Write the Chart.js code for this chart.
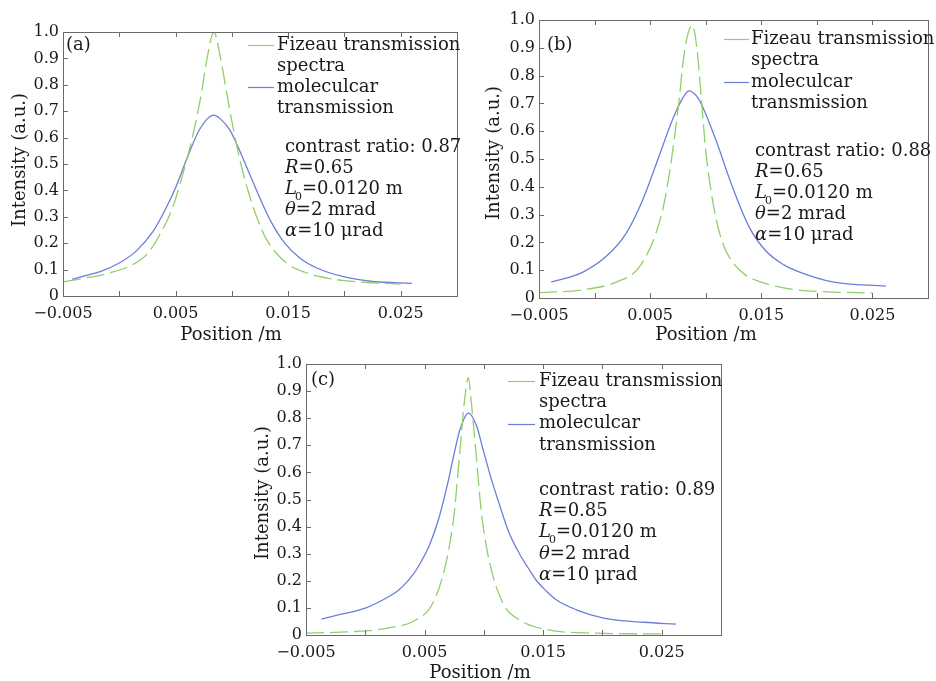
<!DOCTYPE html>
<html>
<head>
<meta charset="utf-8">
<script src="https://cdn.jsdelivr.net/npm/chart.js@4.4.1/dist/chart.umd.min.js"></script>
<style>
  html, body { margin: 0; padding: 0; background: #fff; }
  #wrap { position: relative; width: 936px; height: 681px; }
  #wrap canvas { position: absolute; left: 0; top: 0; }
</style>
</head>
<body>
<div id="wrap">
  <canvas id="chartA" width="936" height="681"></canvas>
  <canvas id="chartB" width="936" height="681"></canvas>
  <canvas id="chartC" width="936" height="681"></canvas>
</div>
<script>
// Tick values shared by all three panels
const xTicks = [-0.005, 0, 0.005, 0.01, 0.015, 0.02, 0.025, 0.03];
const xLabelled = [-0.005, 0.005, 0.015, 0.025];
const yTicks = [0, 0.1, 0.2, 0.3, 0.4, 0.5, 0.6, 0.7, 0.8, 0.9, 1.0];

// Panel (a)
const aMolX = [-0.0042, -0.003, -0.0017, 0, 0.0015, 0.003, 0.004, 0.005, 0.006, 0.007, 0.0078, 0.0084, 0.009, 0.0098, 0.0106, 0.0115, 0.0125, 0.0135, 0.0147, 0.016, 0.0176, 0.02, 0.0225, 0.026];
const aMolY = [0.063, 0.077, 0.092, 0.125, 0.17, 0.245, 0.32, 0.41, 0.52, 0.62, 0.67, 0.685, 0.67, 0.63, 0.56, 0.47, 0.37, 0.28, 0.2, 0.145, 0.105, 0.072, 0.055, 0.048];
const aFizX = [-0.005, -0.003, -0.001, 0.001, 0.0025, 0.0037, 0.0047, 0.0055, 0.0062, 0.0068, 0.0073, 0.0078, 0.0084, 0.009, 0.0095, 0.0101, 0.0108, 0.0115, 0.0122, 0.013, 0.014, 0.015, 0.0165, 0.018, 0.02, 0.0225, 0.025];
const aFizY = [0.054, 0.068, 0.086, 0.115, 0.16, 0.24, 0.33, 0.44, 0.55, 0.66, 0.77, 0.9, 1.0, 0.9, 0.78, 0.64, 0.5, 0.39, 0.3, 0.22, 0.16, 0.12, 0.09, 0.072, 0.058, 0.05, 0.045];

// Panel (b)
const bMolX = [-0.0039, -0.0025, -0.001, 0.001, 0.0028, 0.0043, 0.0058, 0.007, 0.0078, 0.0085, 0.0092, 0.0097, 0.0109, 0.0124, 0.0139, 0.0154, 0.017, 0.0184, 0.0214, 0.0262];
const bMolY = [0.058, 0.072, 0.094, 0.148, 0.23, 0.35, 0.51, 0.64, 0.71, 0.745, 0.725, 0.69, 0.57, 0.40, 0.256, 0.17, 0.12, 0.094, 0.058, 0.043];
const bFizX = [-0.005, -0.001, 0.002, 0.004, 0.0055, 0.0062, 0.0067, 0.0072, 0.0076, 0.008, 0.0084, 0.0088, 0.0092, 0.0096, 0.01, 0.0105, 0.0109, 0.0116, 0.0124, 0.0135, 0.0145, 0.016, 0.0184, 0.021, 0.025];
const bFizY = [0.019, 0.03, 0.058, 0.11, 0.23, 0.33, 0.44, 0.58, 0.71, 0.86, 0.95, 0.98, 0.9, 0.72, 0.53, 0.38, 0.29, 0.19, 0.13, 0.085, 0.064, 0.045, 0.028, 0.022, 0.018];

// Panel (c)
const cMolX = [-0.0037, -0.0022, 0, 0.002, 0.0028, 0.0035, 0.0041, 0.0046, 0.0054, 0.0062, 0.0069, 0.0075, 0.008, 0.0087, 0.0094, 0.0099, 0.0106, 0.0114, 0.0121, 0.013, 0.0137, 0.0144, 0.0152, 0.0161, 0.0178, 0.0201, 0.0235, 0.0262];
const cMolY = [0.059, 0.075, 0.099, 0.142, 0.165, 0.195, 0.227, 0.262, 0.33, 0.43, 0.55, 0.67, 0.76, 0.819, 0.77, 0.69, 0.58, 0.47, 0.38, 0.30, 0.25, 0.203, 0.165, 0.13, 0.093, 0.0625, 0.047, 0.04];
const cFizX = [-0.005, -0.0008, 0.002, 0.0043, 0.0057, 0.0068, 0.0075, 0.008, 0.0084, 0.0087, 0.0089, 0.0093, 0.0098, 0.0105, 0.0116, 0.013, 0.0153, 0.0195, 0.025];
const cFizY = [0.007, 0.013, 0.026, 0.056, 0.118, 0.265, 0.45, 0.69, 0.877, 0.95, 0.877, 0.69, 0.45, 0.265, 0.118, 0.056, 0.02, 0.007, 0.004];

const legendLabels = [['Fizeau transmission', 'spectra'], ['moleculcar', 'transmission']];

const FONT = '"DejaVu Serif", "Liberation Serif", serif';
const TEXT = '#1a1a1a';
const GREEN = '#8fcf6c';
const BLUE = '#6b7fd6';
const FRAME = '#6a6a6a';
const W = 936, H = 681;
const Y_AXIS_W = 40, X_AXIS_H = 30;

function fmtX(v) {
  const s = Math.abs(v).toFixed(3);
  return v < 0 ? '\u2212' + s : s;
}

function toPoints(xs, ys) {
  return xs.map((x, i) => ({ x: x, y: ys[i] }));
}

// draw a line of text made of plain / italic / subscript pieces
function drawRich(ctx, x, y, parts) {
  let cx = x;
  parts.forEach(p => {
    if (p.sub) {
      ctx.font = '11px ' + FONT;
      ctx.fillText(p.t, cx - 2, y + 8);
      cx += ctx.measureText(p.t).width - 2;
    } else {
      ctx.font = (p.it ? 'italic ' : '') + '18px ' + FONT;
      ctx.fillText(p.t, cx, y);
      cx += ctx.measureText(p.t).width;
    }
  });
}

const decorPlugin = {
  id: 'decor',
  afterDatasetsDraw(chart, args, o) {
    const ctx = chart.ctx;
    const a = chart.chartArea;
    const xs = chart.scales.x;
    const ys = chart.scales.y;
    ctx.save();

    // frame + inward ticks
    ctx.strokeStyle = FRAME;
    ctx.lineWidth = 1;
    ctx.strokeRect(Math.round(a.left) + 0.5, Math.round(a.top) + 0.5,
      Math.round(a.right - a.left), Math.round(a.bottom - a.top));
    ctx.beginPath();
    xTicks.slice(1, -1).forEach(v => {
      const px = Math.round(xs.getPixelForValue(v)) + 0.5;
      ctx.moveTo(px, a.bottom); ctx.lineTo(px, a.bottom - 5);
      ctx.moveTo(px, a.top); ctx.lineTo(px, a.top + 5);
    });
    yTicks.slice(1, -1).forEach(v => {
      const py = Math.round(ys.getPixelForValue(v)) + 0.5;
      ctx.moveTo(a.left, py); ctx.lineTo(a.left + 5, py);
    });
    ctx.stroke();

    ctx.fillStyle = TEXT;
    ctx.textBaseline = 'middle';
    ctx.textAlign = 'left';
    ctx.font = '18px ' + FONT;
    ctx.fillText(o.tag, o.tagX, o.tagY);

    // legend
    const lg = o.legend;
    [GREEN, BLUE].forEach((col, i) => {
      const y0 = lg.y + i * 2 * lg.dy;
      ctx.strokeStyle = col;
      ctx.lineWidth = 1.2;
      ctx.beginPath();
      ctx.moveTo(lg.x1, Math.round(y0) + 0.5);
      ctx.lineTo(lg.x2, Math.round(y0) + 0.5);
      ctx.stroke();
      ctx.font = '18px ' + FONT;
      ctx.fillText(legendLabels[i][0], lg.tx, y0);
      ctx.fillText(legendLabels[i][1], lg.tx, y0 + lg.dy);
    });

    // parameter block
    const an = o.ann;
    drawRich(ctx, an.x, an.y, [{ t: 'contrast ratio: ' + o.ratio }]);
    drawRich(ctx, an.x, an.y + an.dy, [{ t: 'R', it: true }, { t: '=' + o.R }]);
    drawRich(ctx, an.x, an.y + 2 * an.dy, [{ t: 'L', it: true }, { t: '0', sub: true }, { t: '=0.0120 m' }]);
    drawRich(ctx, an.x, an.y + 3 * an.dy, [{ t: '\u03b8', it: true }, { t: '=2 mrad' }]);
    drawRich(ctx, an.x, an.y + 4 * an.dy, [{ t: '\u03b1', it: true }, { t: '=10 \u03bcrad' }]);

    // axis titles
    ctx.font = '18px ' + FONT;
    ctx.textAlign = 'center';
    ctx.fillText('Position /m', o.xTitle.x, o.xTitle.y);
    ctx.translate(o.yTitle.x, o.yTitle.y);
    ctx.rotate(-Math.PI / 2);
    ctx.fillText('Intensity (a.u.)', 0, 0);
    ctx.restore();
  }
};

function createPanel(canvasId, plot, fizX, fizY, molX, molY, decor) {
  const ctx = document.getElementById(canvasId).getContext('2d');
  return new Chart(ctx, {
    type: 'scatter',
    data: {
      datasets: [
        {
          label: 'Fizeau transmission spectra',
          data: toPoints(fizX, fizY),
          showLine: true,
          borderColor: GREEN,
          borderWidth: 1.3,
          borderDash: [18, 6],
          pointRadius: 0,
          cubicInterpolationMode: 'monotone'
        },
        {
          label: 'moleculcar transmission',
          data: toPoints(molX, molY),
          showLine: true,
          borderColor: BLUE,
          borderWidth: 1.3,
          pointRadius: 0,
          cubicInterpolationMode: 'monotone'
        }
      ]
    },
    options: {
      responsive: false,
      animation: false,
      events: [],
      layout: {
        padding: {
          left: plot.l - Y_AXIS_W,
          top: plot.t,
          right: W - plot.r,
          bottom: H - plot.b - X_AXIS_H
        }
      },
      plugins: {
        legend: { display: false },
        tooltip: { enabled: false },
        decor: decor
      },
      scales: {
        x: {
          type: 'linear',
          min: -0.005,
          max: 0.03,
          afterFit: s => { s.height = X_AXIS_H; },
          afterBuildTicks: s => { s.ticks = xTicks.map(v => ({ value: v })); },
          grid: { display: false, drawTicks: false },
          border: { display: false },
          ticks: {
            autoSkip: false,
            maxRotation: 0,
            padding: 8,
            color: TEXT,
            font: { family: FONT, size: 16 },
            callback: v => xLabelled.some(t => Math.abs(t - v) < 1e-9) ? fmtX(v) : ''
          }
        },
        y: {
          type: 'linear',
          min: 0,
          max: 1,
          afterFit: s => { s.width = Y_AXIS_W; },
          afterBuildTicks: s => { s.ticks = yTicks.map(v => ({ value: v })); },
          grid: { display: false, drawTicks: false },
          border: { display: false },
          ticks: {
            autoSkip: false,
            padding: 4,
            color: TEXT,
            font: { family: FONT, size: 16 },
            callback: v => v === 0 ? '0' : v.toFixed(1)
          }
        }
      }
    },
    plugins: [decorPlugin]
  });
}

createPanel('chartA', { l: 63, t: 32, r: 457, b: 296 }, aFizX, aFizY, aMolX, aMolY, {
  tag: '(a)', tagX: 66, tagY: 45,
  legend: { x1: 248, x2: 274, tx: 277, y: 45, dy: 21 },
  ann: { x: 285, y: 147, dy: 21.2 },
  ratio: '0.87', R: '0.65',
  xTitle: { x: 231, y: 335 }, yTitle: { x: 20, y: 160 }
});

createPanel('chartB', { l: 539, t: 20, r: 929, b: 298 }, bFizX, bFizY, bMolX, bMolY, {
  tag: '(b)', tagX: 547, tagY: 45,
  legend: { x1: 724, x2: 749, tx: 751, y: 39, dy: 21.5 },
  ann: { x: 755, y: 151, dy: 21.2 },
  ratio: '0.88', R: '0.65',
  xTitle: { x: 706, y: 335 }, yTitle: { x: 494, y: 153 }
});

createPanel('chartC', { l: 306, t: 364, r: 721, b: 635 }, cFizX, cFizY, cMolX, cMolY, {
  tag: '(c)', tagX: 311, tagY: 380,
  legend: { x1: 508, x2: 535, tx: 539, y: 381, dy: 21.3 },
  ann: { x: 539, y: 490, dy: 21.3 },
  ratio: '0.89', R: '0.85',
  xTitle: { x: 480, y: 673 }, yTitle: { x: 263, y: 493 }
});
</script>
</body>
</html>
